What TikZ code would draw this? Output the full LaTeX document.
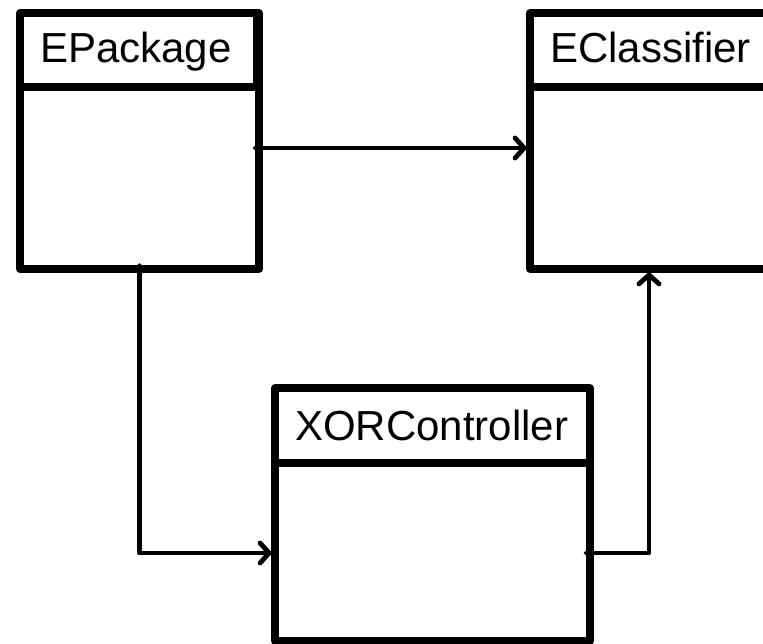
\documentclass[tikz,border=0pt]{standalone}
\usepackage{fontspec}
\setmainfont{Liberation Sans}
\usetikzlibrary{arrows.meta,shapes.geometric}
\tikzset{
  classbox/.style={draw=black, line width=7.5pt, line join=round, outer sep=0pt, inner sep=0pt, fill=white},
  divider/.style={draw=black, line width=7.5pt},
  classname/.style={anchor=base west, inner sep=0pt, font=\fontsize{42}{50}\selectfont},
  joint/.style={diamond, fill=black, inner sep=0pt, minimum width=13pt, minimum height=12pt, aspect=1.1},
  conn/.style={draw=black, line width=4.8pt, line join=round,
    -{Straight Barb[length=9pt,width=20pt,line cap=round,line join=round]},
    shorten >=3.5pt}
}
\begin{document}
\begin{tikzpicture}[x=1pt,y=-1pt]
\useasboundingbox (0,0) rectangle (763,644);
\begin{scope}
\clip (0,0) rectangle (763,644);
% boxes
\node[classbox, minimum width=239pt, minimum height=256pt] (EPackage) at (139.5,141) {};
\node[classbox, minimum width=238pt, minimum height=256pt] (EClassifier) at (649,141) {};
\node[classbox, minimum width=315pt, minimum height=253pt] (XOR) at (432.5,514.5) {};
% title dividers
\draw[divider] ([yshift=-74pt]EPackage.north west) -- ([yshift=-74pt]EPackage.north east);
\draw[divider] ([yshift=-74pt]EClassifier.north west) -- ([yshift=-74pt]EClassifier.north east);
\draw[divider] ([yshift=-75pt]XOR.north west) -- ([yshift=-75pt]XOR.north east);
\draw[line width=2pt] ([xshift=-5.5pt]EPackage.north east) -- ([xshift=-5.5pt,yshift=-74pt]EPackage.north east);
% names
\node[classname] (tEPackage) at (40,63) {EPackage};
\node[classname] (tEClassifier) at (550,63) {EClassifier};
\node[classname] (tXOR) at (295,440) {XORController};
% joints
\node[joint] (j1) at ([yshift=-7pt]EPackage.east) {};
\node[joint] (j2) at (EPackage.south) {};
\node[joint] (j3) at ([yshift=-38.5pt]XOR.east) {};
% connectors
\draw[conn] (j1.center) -- (j1.center -| EClassifier.west);
\draw[conn] (j2.center) |- ([yshift=-38.5pt]XOR.west);
\draw[conn] (j3.center) -| (EClassifier.south);
\end{scope}
\end{tikzpicture}
\end{document}
